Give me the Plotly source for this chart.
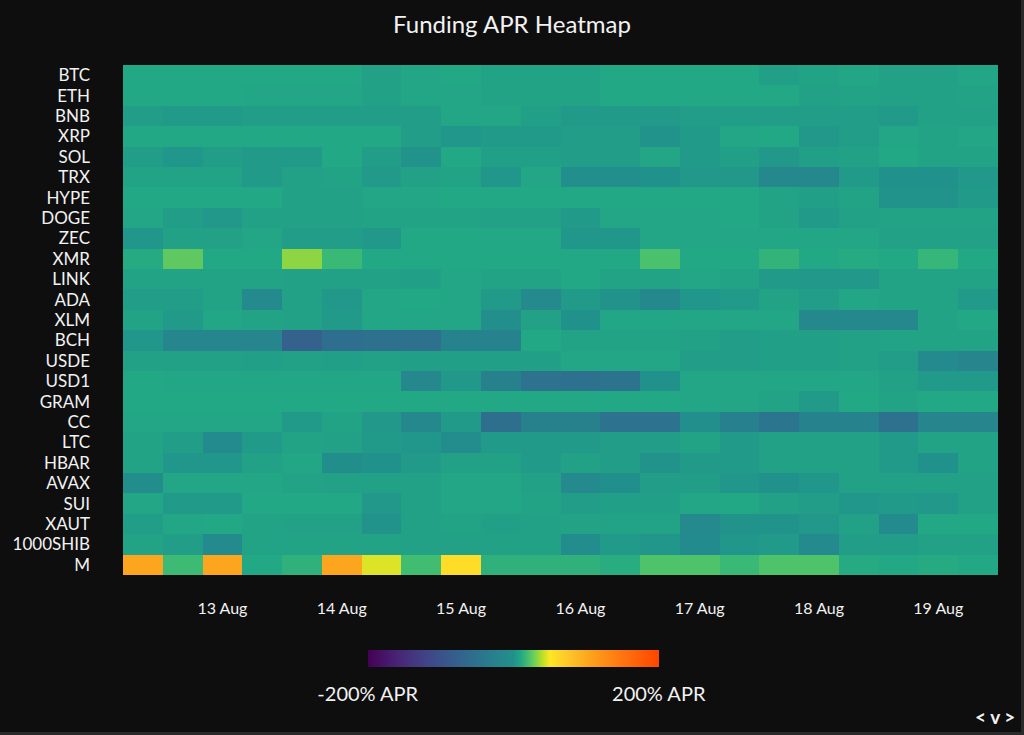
import plotly.graph_objects as go

# 8h funding periods (cell centres)
times = [
    "2025-08-12 08:00", "2025-08-12 16:00", "2025-08-13 00:00", "2025-08-13 08:00",
    "2025-08-13 16:00", "2025-08-14 00:00", "2025-08-14 08:00", "2025-08-14 16:00",
    "2025-08-15 00:00", "2025-08-15 08:00", "2025-08-15 16:00", "2025-08-16 00:00",
    "2025-08-16 08:00", "2025-08-16 16:00", "2025-08-17 00:00", "2025-08-17 08:00",
    "2025-08-17 16:00", "2025-08-18 00:00", "2025-08-18 08:00", "2025-08-18 16:00",
    "2025-08-19 00:00", "2025-08-19 08:00",
]

symbols = ["BTC", "ETH", "BNB", "XRP", "SOL", "TRX", "HYPE", "DOGE", "ZEC", "XMR",
           "LINK", "ADA", "XLM", "BCH", "USDE", "USD1", "GRAM", "CC", "LTC", "HBAR",
           "AVAX", "SUI", "XAUT", "1000SHIB", "M"]

# funding APR (%) per period
btc = [10, 10, 10, 10, 10, 10, 7, 9, 10, 8, 8, 8, 10, 10, 10, 10, 6, 8, 9, 7, 7, 9]
eth = [10, 10, 10, 9, 9, 9, 7, 9, 9, 8, 8, 8, 10, 10, 10, 10, 10, 7, 8, 7, 7, 8]
bnb = [5, 4, 4, 5, 5, 5, 5, 5, 9, 9, 6, 4, 4, 4, 5, 5, 5, 5, 5, 4, 7, 7]
xrp = [10, 10, 10, 10, 10, 10, 10, 5, 2, 4, 4, 5, 5, 1, 4, 9, 10, 3, 5, 9, 8, 9]
sol = [5, 2, 5, 4, 4, 10, 5, 1, 10, 6, 6, 5, 5, 9, 4, 6, 3, 6, 7, 10, 8, 8]
trx = [8, 8, 8, 4, 7, 8, 4, 7, 8, 2, 9, -3, -3, 0, 3, 3, -15, -15, 4, 0, 0, 3]
hype = [10, 10, 10, 10, 7, 7, 9, 9, 10, 10, 10, 10, 10, 10, 10, 10, 8, 6, 8, 1, 1, 4]
doge = [9, 5, 3, 7, 7, 7, 8, 8, 8, 7, 7, 4, 9, 9, 9, 10, 8, 4, 7, 8, 8, 8]
zec = [2, 7, 7, 9, 5, 5, 3, 10, 10, 10, 10, 2, 2, 9, 9, 9, 9, 9, 9, 7, 7, 7]
xmr = [11, 25, 10, 10, 33, 17, 10, 10, 10, 10, 10, 10, 10, 21, 10, 10, 15, 10, 11, 10, 16, 10]
link = [8, 8, 8, 8, 7, 7, 7, 6, 9, 8, 8, 10, 8, 8, 9, 8, 4, 3, 3, 8, 8, 8]
ada = [5, 5, 8, -12, 7, 3, 9, 10, 9, 4, -12, 4, 1, -15, 2, 4, 8, 5, 9, 8, 8, 4]
xlm = [8, 4, 9, 8, 7, 4, 9, 9, 9, -3, 7, 0, 9, 9, 9, 9, 9, -15, -15, -15, 8, 10]
bch = [2, -17, -17, -20, -75, -56, -52, -52, -24, -24, 10, 8, 8, 8, 7, 5, 6, 6, 7, 8, 8, 8]
usde = [7, 7, 7, 6, 7, 6, 7, 6, 6, 6, 6, 9, 9, 9, 5, 5, 6, 6, 7, 5, -12, -20]
usd1 = [10, 9, 9, 9, 9, 9, 9, -15, 3, -25, -50, -52, -48, 0, 9, 9, 9, 9, 9, 7, 4, 4]
gram = [10, 10, 10, 10, 10, 10, 10, 10, 10, 10, 10, 10, 10, 10, 9, 9, 8, 4, 10, 8, 10, 10]
cc = [9, 9, 9, 9, 4, 8, 3, -15, 4, -55, -25, -25, -50, -50, -3, -28, -45, -24, -24, -52, -20, -20]
ltc = [8, 5, -10, 4, 8, 7, 4, 2, -8, 4, 4, 4, 5, 5, 8, 4, 7, 7, 7, 4, 8, 8]
hbar = [8, 2, 2, 7, 9, -5, 0, 4, 7, 7, 4, 7, 5, 1, 4, 4, 7, 7, 7, 4, 0, 8]
avax = [-5, 9, 9, 9, 8, 7, 7, 7, 9, 9, 7, -12, -2, 5, 5, 2, 0, 2, 7, 7, 7, 7]
sui = [9, 4, 4, 10, 10, 10, 3, 7, 9, 9, 8, 5, 6, 6, 9, 10, 7, 5, 2, 4, 3, 7]
xaut = [5, 9, 10, 8, 7, 7, 1, 7, 8, 6, 7, 8, 8, 8, -12, 1, 1, 3, 7, -10, 10, 10]
shib = [8, 5, -10, 8, 8, 8, 8, 7, 7, 7, 7, -8, 4, 2, -10, 2, 4, -12, 5, 5, 7, 7]
m = [104, 18, 104, 10, 14, 104, 45, 19, 58, 14, 14, 14, 12, 22, 22, 17, 22, 22, 11, 10, 11, 10]

rows = [btc, eth, bnb, xrp, sol, trx, hype, doge, zec, xmr, link, ada, xlm, bch,
        usde, usd1, gram, cc, ltc, hbar, avax, sui, xaut, shib, m]

# viridis from -200% to +50% APR (zero at the middle), then yellow -> orange -> red
colorscale = [
    [0.0, "#440154"], [0.1, "#482475"], [0.2, "#414487"], [0.3, "#355f8d"],
    [0.4, "#2a788e"], [0.5, "#21918c"], [0.525, "#22a884"], [0.55, "#44bf70"],
    [0.575, "#7ad151"], [0.6, "#bddf26"], [0.625, "#fde725"], [0.69, "#fec52a"],
    [0.76, "#fca51e"], [0.86, "#ff7a12"], [1.0, "#ff4500"],
]

BG = "#0e0e0e"
TXT = "#f2f2f2"
FONT = "Lato"

fig = go.Figure(
    go.Heatmap(
        x=times,
        y=symbols,
        z=rows,
        zmin=-200,
        zmax=200,
        colorscale=colorscale,
        colorbar=dict(
            orientation="h",
            x=0.446,
            xanchor="center",
            y=-0.147,
            yanchor="top",
            len=291,
            lenmode="pixels",
            thickness=17,
            outlinewidth=0,
            xpad=0,
            ypad=0,
            tickvals=[-200, 200],
            ticktext=["-200% APR", "200% APR"],
            ticks="outside",
            ticklen=10,
            tickcolor="rgba(0,0,0,0)",
            tickfont=dict(size=20, color=TXT, family=FONT),
        ),
        hovertemplate="%{y}<br>%{x}<br>%{z}% APR<extra></extra>",
    )
)

fig.update_layout(
    width=1024,
    height=735,
    margin=dict(l=123, r=26, t=65, b=160),
    paper_bgcolor=BG,
    plot_bgcolor=BG,
    font=dict(family=FONT, color=TXT, size=16),
    title=dict(
        text="Funding APR Heatmap",
        x=0.5,
        xanchor="center",
        y=0.967,
        yanchor="middle",
        font=dict(size=24, color=TXT, family=FONT),
    ),
    xaxis=dict(
        type="date",
        tick0="2025-08-13",
        dtick=86400000,
        tickformat="%d %b",
        showgrid=False,
        zeroline=False,
        ticklabelstandoff=22,
        tickfont=dict(size=16, color=TXT),
    ),
    yaxis=dict(
        autorange="reversed",
        showgrid=False,
        zeroline=False,
        ticklabelstandoff=32,
        tickfont=dict(size=17, color=TXT),
    ),
    annotations=[
        dict(
            text="<b>&lt; v &gt;</b>",
            xref="paper",
            yref="paper",
            x=0.9966,
            y=-0.278,
            xanchor="center",
            yanchor="middle",
            showarrow=False,
            font=dict(size=19, color=TXT, family=FONT),
        )
    ],
    shapes=[
        dict(
            type="rect",
            xref="paper",
            yref="paper",
            x0=-0.16,
            x1=1.0280,
            y0=-0.3110,
            y1=1.15,
            line=dict(color="#2a2a2a", width=3),
            layer="above",
        )
    ],
)

# drop the browser's default body margin so the figure sits at the window corner
fig.write_html(
    "out.html",
    config={"displayModeBar": False},
    post_script="document.body.style.margin='0';",
)
